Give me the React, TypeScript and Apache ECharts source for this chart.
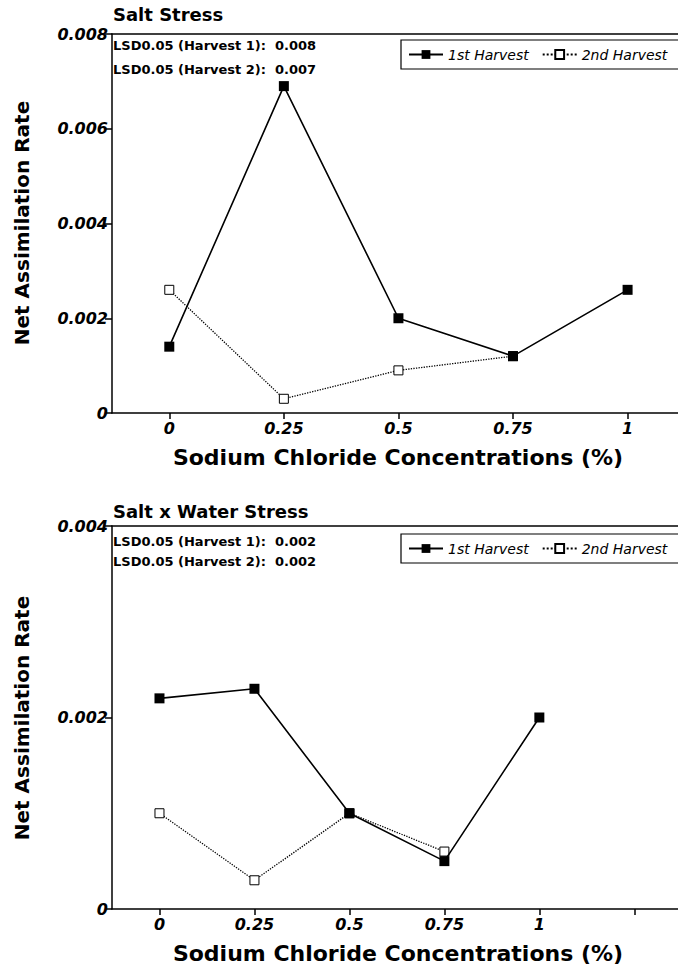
import React, { useEffect, useRef } from "react";
import * as echarts from "echarts";

// ---- data ----
const concentrations = [0, 0.25, 0.5, 0.75, 1];
const saltHarvest1 = [0.0014, 0.0069, 0.002, 0.0012, 0.0026];
const saltHarvest2 = [0.0026, 0.0003, 0.0009, 0.0012];
const saltWaterHarvest1 = [0.0022, 0.0023, 0.001, 0.0005, 0.002];
const saltWaterHarvest2 = [0.001, 0.0003, 0.001, 0.0006];

const xTickValuesTop = [0, 0.25, 0.5, 0.75, 1];
const xTickValuesBottom = [0, 0.25, 0.5, 0.75, 1, 1.25];
const xTickLabels = [0, 0.25, 0.5, 0.75, 1];

const seriesNames = ["1st Harvest", "2nd Harvest"];
const panelTitles = ["Salt Stress", "Salt x Water Stress"];
const lsdTop = ["LSD0.05 (Harvest 1):  0.008", "LSD0.05 (Harvest 2):  0.007"];
const lsdBottom = ["LSD0.05 (Harvest 1):  0.002", "LSD0.05 (Harvest 2):  0.002"];
const xTitle = "Sodium Chloride Concentrations (%)";
const yTitle = "Net Assimilation Rate";

function pairs(xs: number[], ys: number[]) {
  return ys.map((y, i) => [xs[i], y]);
}

export default function App() {
  const ref = useRef<HTMLDivElement>(null);

  useEffect(() => {
    const chart = echarts.init(ref.current!, null, { renderer: "svg" });
    const H = 969;
    const dv = '"DejaVu Sans"';
    const tickFont = {
      fontFamily: dv,
      fontWeight: "bold" as const,
      fontStyle: "italic" as const,
      fontSize: 16,
      color: "#000",
    };
    const axisLineStyle = { color: "#000", width: 1.5 };

    const panels = [
      { top: 34, bottom: 413, xMax: 1.11, yMax: 0.008, ticks: xTickValuesTop, legendTop: 40 },
      { top: 526, bottom: 909, xMax: 1.365, yMax: 0.004, ticks: xTickValuesBottom, legendTop: 534 },
    ];

    const grid = panels.map((p) => ({ left: 112, right: 0, top: p.top, bottom: H - p.bottom }));

    const xAxis: any[] = [];
    panels.forEach((p, gi) => {
      xAxis.push({
        type: "value",
        gridIndex: gi,
        position: "bottom",
        min: -0.125,
        max: p.xMax,
        axisLine: { show: true, onZero: false, lineStyle: axisLineStyle },
        axisTick: { show: true, length: 6, customValues: p.ticks, lineStyle: axisLineStyle },
        axisLabel: {
          show: true,
          customValues: xTickLabels,
          margin: 7,
          ...tickFont,
          formatter: (v: number) => String(v),
        },
        splitLine: { show: false },
      });
      xAxis.push({
        type: "value",
        gridIndex: gi,
        position: "top",
        min: -0.125,
        max: p.xMax,
        axisLine: { show: true, onZero: false, lineStyle: axisLineStyle },
        axisTick: { show: false },
        axisLabel: { show: false },
        splitLine: { show: false },
      });
    });

    const yAxis = panels.map((p, gi) => ({
      type: "value",
      gridIndex: gi,
      position: "left",
      min: 0,
      max: p.yMax,
      interval: 0.002,
      axisLine: { show: true, onZero: false, lineStyle: axisLineStyle },
      axisTick: { show: true, length: 7, lineStyle: axisLineStyle },
      axisLabel: {
        margin: 4,
        ...tickFont,
        formatter: (v: number) => (v === 0 ? "0" : v.toFixed(3)),
      },
      splitLine: { show: false },
    }));

    const mk2 = (gi: number, data: number[]) => ({
      name: seriesNames[1],
      type: "line",
      xAxisIndex: gi * 2,
      yAxisIndex: gi,
      data: pairs(concentrations, data),
      symbol: "rect",
      symbolSize: 9,
      itemStyle: { color: "#fff", borderColor: "#000", borderWidth: 1 },
      lineStyle: { color: "#000", width: 1.3, type: "dotted" },
      z: 2,
    });
    const mk1 = (gi: number, data: number[]) => ({
      name: seriesNames[0],
      type: "line",
      xAxisIndex: gi * 2,
      yAxisIndex: gi,
      data: pairs(concentrations, data),
      symbol: "rect",
      symbolSize: 10,
      itemStyle: { color: "#000" },
      lineStyle: { color: "#000", width: 1.6 },
      z: 3,
    });

    const legend = panels.map((p) => ({
      data: seriesNames,
      left: 401,
      top: p.legendTop,
      orient: "horizontal",
      padding: [7, 2, 7, 7],
      itemWidth: 34,
      itemHeight: 11,
      itemGap: 13,
      selectedMode: false,
      textStyle: {
        fontFamily: dv,
        fontStyle: "italic",
        fontSize: 14,
        lineHeight: 15,
        color: "#000",
      },
    }));

    const txt = (text: string, x: number, y: number, font: string, extra: any = {}) => ({
      type: "text",
      x,
      y,
      ...extra,
      style: { text, font, fill: "#000", align: "left", verticalAlign: "middle", ...(extra.style || {}) },
    });

    const legendBox = (y: number) => ({
      type: "rect",
      silent: true,
      shape: { x: 401, y, width: 320, height: 29 },
      style: { fill: "none", stroke: "#000", lineWidth: 1.2 },
    });

    const graphic: any[] = [
      legendBox(40),
      legendBox(534),
      txt(panelTitles[0], 113, 14, `bold 18px ${dv}`),
      txt(panelTitles[1], 113, 511, `bold 18px ${dv}`),
      txt(lsdTop[0], 113, 45, `bold 13px ${dv}`),
      txt(lsdTop[1], 113, 69, `bold 13px ${dv}`),
      txt(lsdBottom[0], 113, 541, `bold 13px ${dv}`),
      txt(lsdBottom[1], 113, 561, `bold 13px ${dv}`),
      txt(xTitle, 398, 457, `bold 22px ${dv}`, { style: { align: "center" } }),
      txt(xTitle, 398, 953, `bold 22px ${dv}`, { style: { align: "center" } }),
      txt(yTitle, 22, 223, `bold 20px ${dv}`, { rotation: Math.PI / 2, style: { align: "center" } }),
      txt(yTitle, 22, 718, `bold 20px ${dv}`, { rotation: Math.PI / 2, style: { align: "center" } }),
    ];

    chart.setOption({
      animation: false,
      backgroundColor: "#fff",
      grid,
      xAxis,
      yAxis,
      legend,
      series: [
        mk2(0, saltHarvest2),
        mk1(0, saltHarvest1),
        mk2(1, saltWaterHarvest2),
        mk1(1, saltWaterHarvest1),
      ],
      graphic,
    });

    return () => chart.dispose();
  }, []);

  return (
    <div
      ref={ref}
      style={{ position: "fixed", left: 0, top: 0, width: 678, height: 969, background: "#fff" }}
    />
  );
}
